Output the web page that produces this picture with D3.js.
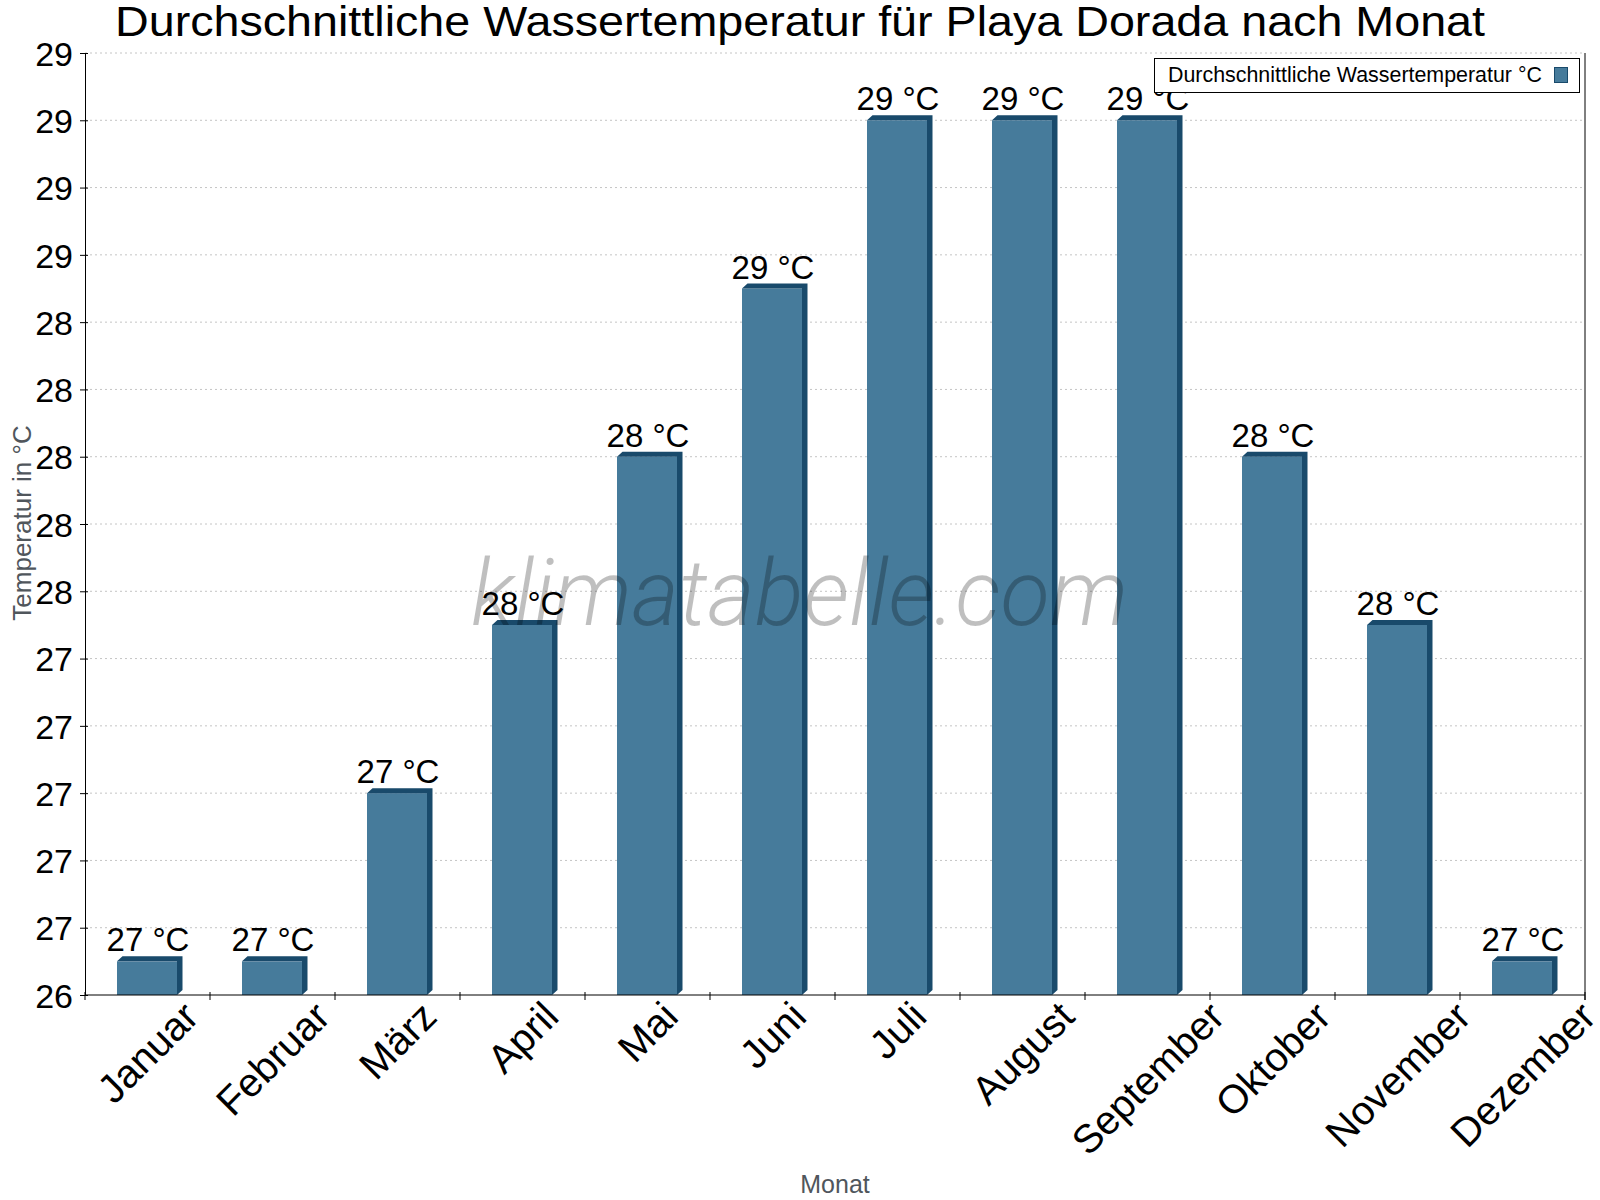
<!DOCTYPE html>
<html>
<head>
<meta charset="utf-8">
<script src="https://cdn.jsdelivr.net/npm/d3@7"></script>
<style>
  body { margin: 0; background: #fff; }
  text { font-family: "Liberation Sans", Arial, sans-serif; }
</style>
</head>
<body>
<div id="chart"></div>
<script>
// data
const months = ["Januar", "Februar", "März", "April", "Mai", "Juni", "Juli", "August", "September", "Oktober", "November", "Dezember"];
const waterTemp = [26.6, 26.6, 27.1, 27.6, 28.1, 28.6, 29.1, 29.1, 29.1, 28.1, 27.6, 26.6];
const yTicks = [26.5, 26.7, 26.9, 27.1, 27.3, 27.5, 27.7, 27.9, 28.1, 28.3, 28.5, 28.7, 28.9, 29.1, 29.3];
const yTickLabels = ["26", "27", "27", "27", "27", "27", "28", "28", "28", "28", "28", "29", "29", "29", "29"];
const seriesName = "Durchschnittliche Wassertemperatur °C";
const chartTitle = "Durchschnittliche Wassertemperatur für Playa Dorada nach Monat";

const W = 1600, H = 1200;
const margin = { top: 53, right: 15, bottom: 205, left: 85 },
      width = W - margin.left - margin.right,
      height = H - margin.top - margin.bottom;

const front = "#467b9b", dark = "#194a6b";
const dx = 5.5, dy = 5;

const svg = d3.select("#chart").append("svg")
    .attr("width", W)
    .attr("height", H);

const g = svg.append("g")
    .attr("transform", `translate(${margin.left},${margin.top})`);

const x = d3.scaleBand().domain(months).range([0, width]);
const y = d3.scaleLinear().domain([yTicks[0], yTicks[yTicks.length - 1]]).range([height, 0]);

// grid
g.append("g")
  .selectAll("line")
  .data(yTicks.slice(1))
  .enter().append("line")
  .attr("x1", 0).attr("x2", width)
  .attr("y1", d => y(d)).attr("y2", d => y(d))
  .attr("stroke", "#c4c4c4")
  .attr("stroke-dasharray", "2,3");

// bars (front, top, side)
const bw = x.bandwidth();
const bars = g.append("g").selectAll("g")
  .data(months.map((m, i) => ({ m, v: waterTemp[i] })))
  .enter().append("g");

bars.append("rect")
  .attr("x", d => x(d.m) + bw * 0.256)
  .attr("y", d => y(d.v))
  .attr("width", bw * 0.48)
  .attr("height", d => height - y(d.v))
  .attr("fill", front);

bars.append("path")
  .attr("fill", dark)
  .attr("d", d => {
    const x0 = x(d.m) + bw * 0.256, x1 = x0 + bw * 0.48, yt = y(d.v), yb = height;
    return `M${x0},${yt}L${x0 + dx},${yt - dy}L${x1 + dx},${yt - dy}L${x1 + dx},${yb - dy}L${x1},${yb}L${x1},${yt}Z`;
  });

// value labels
bars.append("text")
  .attr("x", d => x(d.m) + bw * 0.256 + bw * 0.24 + 1)
  .attr("y", d => y(d.v) - 10)
  .attr("text-anchor", "middle")
  .attr("font-size", 33)
  .attr("fill", "#000")
  .text(d => Math.round(d.v) + " °C");

// axes
const yAxis = g.append("g")
  .call(d3.axisLeft(y).tickValues(yTicks).tickSizeInner(5).tickSizeOuter(0)
    .tickFormat((d, i) => yTickLabels[i]));
yAxis.select(".domain").attr("stroke", "#000");
yAxis.selectAll(".tick line").attr("x2", 3).attr("x1", -5);
yAxis.selectAll("text").attr("font-size", 34).attr("font-family", "Liberation Sans").attr("x", -12).attr("dy", "0.36em");

const xAxis = g.append("g")
  .attr("transform", `translate(0,${height})`);
xAxis.append("line").attr("x1", 0).attr("x2", width).attr("stroke", "#000");
xAxis.selectAll(".xt")
  .data(d3.range(months.length + 1))
  .enter().append("line")
  .attr("x1", i => i * bw).attr("x2", i => i * bw)
  .attr("y1", -3).attr("y2", 5)
  .attr("stroke", "#000");
// rotated labels: box centred on the bar, top aligned under the axis
xAxis.selectAll(".xl")
  .data(months)
  .enter().append("text")
  .attr("text-anchor", "end")
  .attr("font-size", 40)
  .text(d => d)
  .attr("transform", function(d) {
    const L = this.getComputedTextLength();
    return `translate(${x(d) + bw / 2 + 0.354 * L + 10},${24}) rotate(-45)`;
  });

// right border
g.append("line")
  .attr("x1", width).attr("x2", width)
  .attr("y1", 0).attr("y2", height + 5)
  .attr("stroke", "#000");

// axis titles
svg.append("text")
  .attr("transform", `translate(31,523) rotate(-90)`)
  .attr("text-anchor", "middle")
  .attr("font-size", 26)
  .attr("fill", "#50565c")
  .text("Temperatur in °C");

svg.append("text")
  .attr("x", margin.left + width / 2)
  .attr("y", 1193)
  .attr("text-anchor", "middle")
  .attr("font-size", 25)
  .attr("fill", "#50565c")
  .text("Monat");

// title
svg.append("text")
  .attr("x", 115)
  .attr("y", 36)
  .attr("font-size", 43)
  .attr("textLength", 1370)
  .attr("lengthAdjust", "spacingAndGlyphs")
  .text(chartTitle);

// legend
const lg = svg.append("g");
lg.append("rect")
  .attr("x", 1154.5).attr("y", 58.5)
  .attr("width", 425).attr("height", 34)
  .attr("fill", "#fff").attr("stroke", "#000");
lg.append("text")
  .attr("x", 1168).attr("y", 82)
  .attr("font-size", 21.4)
  .text(seriesName);
lg.append("rect")
  .attr("x", 1554.5).attr("y", 67.5)
  .attr("width", 13).attr("height", 15)
  .attr("fill", front).attr("stroke", dark);

// watermark
svg.append("text")
  .attr("x", 471)
  .attr("y", 625)
  .attr("font-weight", 300)
  .attr("font-style", "italic")
  .attr("font-size", 93)
  .attr("textLength", 657)
  .attr("lengthAdjust", "spacingAndGlyphs")
  .attr("fill", "rgba(0,0,0,0.25)")
  .style("font-family", "Roboto")
  .text("klimatabelle.com");
</script>
</body>
</html>
